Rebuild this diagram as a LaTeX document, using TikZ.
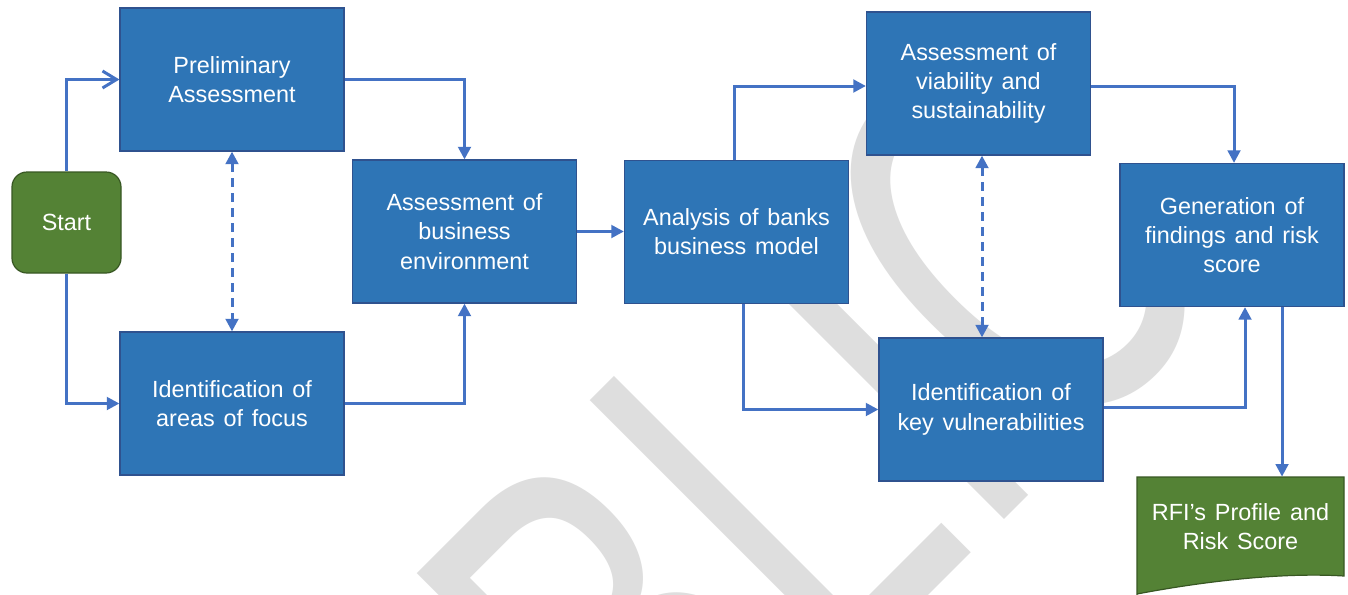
\documentclass[tikz,border=0pt]{standalone}
\usepackage{graphicx}
\usepackage{fontspec}
\setmainfont{Liberation Sans}[WordSpace=1.35]
\newfontfamily\markfont{Liberation Sans}
\usetikzlibrary{arrows.meta,calc}

\definecolor{boxblue}{RGB}{46,117,182}
\definecolor{boxedge}{RGB}{47,82,143}
\definecolor{startgreen}{RGB}{84,130,53}
\definecolor{greenedge}{RGB}{56,87,35}
\definecolor{linkblue}{RGB}{68,114,196}
\definecolor{markgrey}{RGB}{222,222,222}

\tikzset{
  labelfont/.style={font=\fontsize{11.7pt}{14.6pt}\selectfont},
  stage/.style={rectangle, fill=boxblue, draw=boxedge, line width=0.6pt,
    text=white, align=center, labelfont, inner sep=0pt,
    minimum width=112pt, minimum height=71.5pt},
  startbox/.style={rectangle, rounded corners=7.5pt, fill=startgreen,
    draw=greenedge, line width=0.6pt, text=white, labelfont,
    minimum width=54.5pt, minimum height=50.5pt},
  doclabel/.style={rectangle, text=white, align=center, labelfont,
    inner sep=0pt, minimum width=103.5pt, minimum height=49.5pt},
  link/.style={draw=linkblue, line width=1.5pt,
    -{Triangle[length=6.3pt,width=6.3pt]}},
  openlink/.style={draw=linkblue, line width=1.5pt,
    -{Straight Barb[length=7pt,width=8.5pt]}},
  twoway/.style={draw=linkblue, line width=1.5pt,
    dash pattern=on 4.5pt off 3pt,
    {Triangle[length=6.3pt,width=6.3pt]}-{Triangle[length=6.3pt,width=6.3pt]}},
}

\begin{document}
\begin{tikzpicture}[x=0.5pt, y=-0.5pt]
\useasboundingbox (0,0) rectangle (1348,594);
\fill[white] (0,0) rectangle (1348,594);

% diagonal watermark
\begin{scope}
  \clip (0,0) rectangle (1348,594);
  \node[anchor=base west, inner sep=0pt, outer sep=0pt, rotate=45,
        text=markgrey, font=\markfont\fontsize{274pt}{274pt}\selectfont]
        (mark) at (302.2,1221.8) {\scalebox{0.67}[1]{PUBLIC}};
\end{scope}

% process stages
\node[startbox] (start) at (66.5,222.5) {Start};
\node[stage] (pre) at (232,79.5) {Preliminary\\Assessment};
\node[stage] (idf) at (232,403.5) {Identification of\\areas of focus};
\node[stage] (env) at (464.5,231.5) {Assessment of\\business\\environment};
\node[stage] (ana) at (736.5,232) {Analysis of banks\\business model};
\node[stage] (via) at (978.5,83.5) {Assessment of\\viability and\\sustainability};
\node[stage] (gen) at (1232,235) {Generation of\\findings and risk\\score};
\node[stage] (vul) at (991,409.5) {Identification of\\key vulnerabilities};

% output document with wavy lower edge
\path[fill=startgreen, draw=greenedge, line width=0.6pt]
  (1137,596) -- (1137,477) -- (1344,477) -- (1344,576)
  .. controls (1280,572) and (1200,582) .. (1137,594);
\node[doclabel] (rfi) at (1240.5,526.5) {RFI’s Profile and\\Risk Score};

% connectors
\draw[openlink] (start.north) |- (pre.west);
\draw[link] (start.south) |- (idf.west);
\draw[twoway] (pre.south) -- (idf.north);
\draw[link] (pre.east) -| (env.north);
\draw[link] (idf.east) -| (env.south);
\draw[link] (env.east) -- (env.east -| ana.west);

\coordinate (anaup) at ($(ana.north)+(-2,0)$);
\coordinate (viain) at ($(via.west)+(0,2.5)$);
\draw[link] (anaup) |- (viain);
\coordinate (anadown) at ($(ana.south)+(7,0)$);
\draw[link] (anadown) |- (vul.west);

\coordinate (viabot) at ($(via.south)+(3.5,0)$);
\draw[twoway] (viabot) -- (viabot |- vul.north);

\coordinate (viaout) at ($(via.east)+(0,2.5)$);
\coordinate (genin) at ($(gen.north)+(2,0)$);
\draw[link] (viaout) -| (genin);
\coordinate (vulout) at ($(vul.east)+(0,-2.5)$);
\coordinate (genup) at ($(gen.south)+(13,0)$);
\draw[link] (vulout) -| (genup);
\coordinate (genout) at ($(gen.south)+(50,0)$);
\draw[link] (genout) -- (genout |- rfi.north);
\end{tikzpicture}
\end{document}
